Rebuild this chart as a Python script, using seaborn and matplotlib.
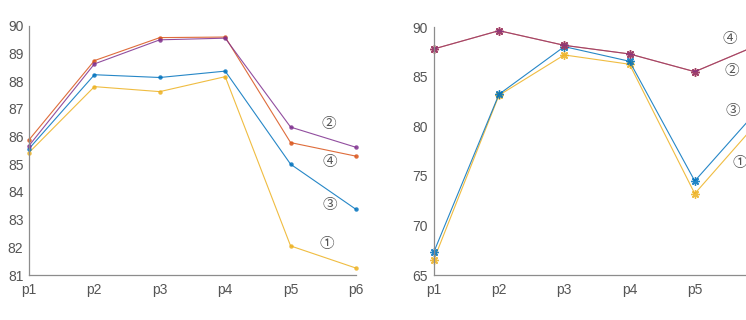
import numpy as np
import pandas as pd
import matplotlib
matplotlib.use('Agg')
import matplotlib.pyplot as plt
import seaborn as sns

# data
points = ['p1', 'p2', 'p3', 'p4', 'p5', 'p6']
series = ['①', '②', '③', '④']

left_1 = [85.42, 87.80, 87.62, 88.16, 82.05, 81.25]
left_2 = [85.67, 88.62, 89.49, 89.55, 86.34, 85.61]
left_3 = [85.56, 88.23, 88.13, 88.36, 85.00, 83.37]
left_4 = [85.88, 88.74, 89.57, 89.59, 85.78, 85.29]

right_1 = [66.51, 83.14, 87.21, 86.27, 73.21, 80.7]
right_2 = [87.81, 89.66, 88.18, 87.31, 85.52, 88.3]
right_3 = [67.29, 83.24, 88.05, 86.57, 74.49, 81.9]
right_4 = [87.81, 89.66, 88.18, 87.31, 85.52, 88.3]

# circled labels (x position as point index, y value)
left_tags = {'②': (4.59, 86.45), '④': (4.60, 85.08), '③': (4.60, 83.53), '①': (4.56, 82.12)}
right_tags = {'④': (4.53, 88.82), '②': (4.57, 85.59), '③': (4.59, 81.55), '①': (4.69, 76.3)}

colors = {'①': '#EDB120', '②': '#7E2F8E', '③': '#0072BD', '④': '#D95319'}


def to_long(vals):
    rows = []
    for name, v in zip(series, vals):
        for i, y in enumerate(v):
            rows.append({'x': i, 'y': y, 'series': name})
    return pd.DataFrame(rows)


sns.set_theme(style='white')
plt.rcParams['font.family'] = ['Liberation Sans', 'DejaVu Sans']

fig = plt.figure(figsize=(7.46, 3.2), dpi=100)
ax1 = fig.add_axes([0.0389, 0.1406, 0.4383, 0.7791])
ax2 = fig.add_axes([0.5814, 0.1406, 0.4374, 0.7741])

df_left = to_long([left_1, left_2, left_3, left_4])
df_right = to_long([right_1, right_2, right_3, right_4])

# left panel: small dots
for name in ['①', '③', '④', '②']:
    d = df_left[df_left['series'] == name]
    sns.lineplot(data=d, x='x', y='y', ax=ax1, color=colors[name], lw=0.8, alpha=0.85,
                 marker='o', markersize=3.2, markeredgewidth=0, legend=False, clip_on=False)

# right panel: asterisks, orange under purple
for name, a in [('①', 0.85), ('③', 0.85), ('④', 0.9), ('②', 0.65)]:
    d = df_right[df_right['series'] == name]
    sns.lineplot(data=d, x='x', y='y', ax=ax2, color=colors[name], lw=0.8, alpha=a,
                 marker=(8, 2, 0), markersize=6, markeredgewidth=1.0,
                 markeredgecolor=colors[name], legend=False, clip_on=False)

ax1.set_ylim(81, 90)
ax1.set_yticks(range(81, 91))
ax2.set_ylim(65, 90)
ax2.set_yticks(range(65, 91, 5))

for ax, tags in [(ax1, left_tags), (ax2, right_tags)]:
    ax.set_xlim(0, 5)
    ax.set_xticks(range(6))
    ax.set_xlabel('')
    ax.set_ylabel('')
    for s in ['top', 'right']:
        ax.spines[s].set_visible(False)
    for s in ['left', 'bottom']:
        ax.spines[s].set_color('#8c8c8c')
        ax.spines[s].set_linewidth(0.9)
    ax.tick_params(direction='in', length=3, width=0.8, color='#8c8c8c',
                   labelsize=10, labelcolor='#555555')
    ax.tick_params(axis='x', pad=6)
    ax.tick_params(axis='y', pad=4)
    for k, (x, y) in tags.items():
        ax.text(x, y, k, fontsize=10.5, color='#555555', ha='center', va='center',
                family=['Noto Sans CJK SC', 'DejaVu Sans'])

ax1.set_xticklabels(points)
# the right panel runs past the picture edge, so its p6 label is not seen
ax2.set_xticklabels(points[:5] + [''])

fig.savefig('out.png', dpi=100)
